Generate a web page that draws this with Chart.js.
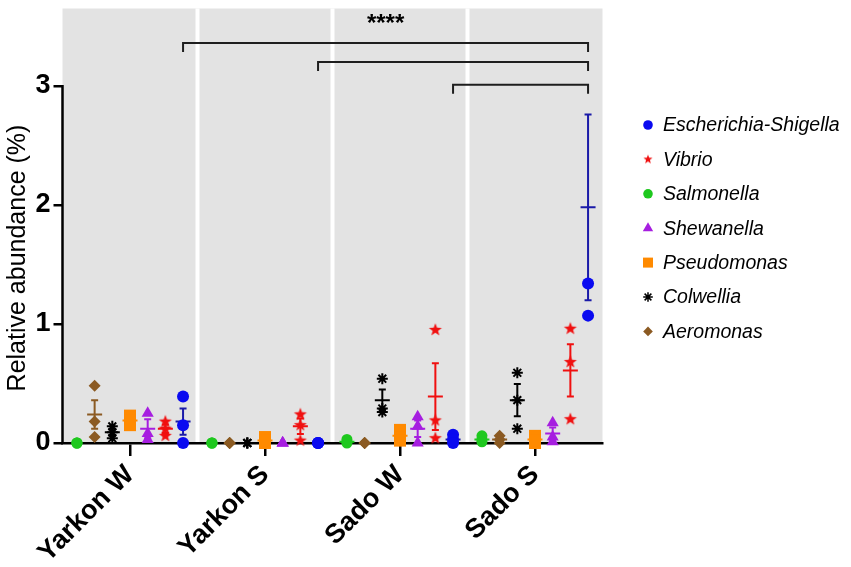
<!DOCTYPE html>
<html>
<head>
<meta charset="utf-8">
<script src="https://cdn.jsdelivr.net/npm/chart.js@4.4.0/dist/chart.umd.min.js"></script>
<style>
  html, body { margin: 0; padding: 0; background: #fff; }
  #wrap { width: 851px; height: 567px; position: relative; }
</style>
</head>
<body>
<div id="wrap"><canvas id="myChart"></canvas></div>
<script>
// groups on the x axis
const groups = ['Yarkon W', 'Yarkon S', 'Sado W', 'Sado S'];

// replicate values per group (Yarkon W, Yarkon S, Sado W, Sado S)
const salmonella  = [[0, 0, 0], [0, 0, 0], [0.03, 0.01, 0], [0.06, 0.03, 0.01]];
const aeromonas   = [[0.48, 0.18, 0.05], [0, 0, 0], [0, 0, 0], [0.06, 0.03, 0]];
const colwellia   = [[0.14, 0.09, 0.04], [0, 0, 0], [0.54, 0.29, 0.26], [0.59, 0.36, 0.12]];
const pseudomonas = [[0.23, 0.19, 0.15], [0.05, 0.02, 0], [0.11, 0.05, 0.02], [0.06, 0.02, 0]];
const shewanella  = [[0.25, 0.08, 0.03], [0, 0, 0], [0.22, 0.14, 0], [0.17, 0.05, 0.01]];
const vibrio      = [[0.18, 0.12, 0.06], [0.24, 0.15, 0.02], [0.95, 0.19, 0.04], [0.96, 0.68, 0.2]];
const escherichia = [[0.39, 0.15, 0], [0, 0, 0], [0.07, 0.03, 0], [1.34, 1.07, null]];

// mean and SEM
const salmonellaMean  = [0, 0, 0.01, 0.03],  salmonellaErr  = [0, 0, 0.01, 0.015];
const aeromonasMean   = [0.24, 0, 0, 0.03],  aeromonasErr   = [0.12, 0, 0, 0.02];
const colwelliaMean   = [0.09, 0, 0.36, 0.36], colwelliaErr = [0.03, 0, 0.09, 0.135];
const pseudomonasMean = [0.19, 0.02, 0.06, 0.03], pseudomonasErr = [0.025, 0.015, 0.03, 0.02];
const shewanellaMean  = [0.12, 0, 0.12, 0.08], shewanellaErr = [0.08, 0, 0.07, 0.05];
const vibrioMean      = [0.12, 0.14, 0.39, 0.61], vibrioErr  = [0.035, 0.065, 0.28, 0.22];
const escherichiaMean = [0.18, 0, 0.03, 1.98], escherichiaErr = [0.11, 0, 0.02, 0.78];

// significance comparisons (Escherichia-Shigella vs Sado S)
const comparisons = [[0, 3], [1, 3], [2, 3]];
const signif = '****';

const yTicks = [0, 1, 2, 3];

function makeStar(r, color) {
    const c = document.createElement('canvas');
    c.width = c.height = Math.ceil(2 * r + 2);
    const g = c.getContext('2d');
    g.fillStyle = color;
    g.beginPath();
    for (let i = 0; i < 10; i++) {
        const rr = i % 2 ? r * 0.42 : r;
        const ang = -Math.PI / 2 + i * Math.PI / 5;
        g.lineTo(c.width / 2 + rr * Math.cos(ang), c.height / 2 + rr * Math.sin(ang));
    }
    g.closePath();
    g.fill();
    return c;
}

const RED = '#f01010';
const bigStar = makeStar(6.8, RED);

// x order within a group: -3 .. +3
const series = [
    {name: 'Salmonella', pts: salmonella, mean: salmonellaMean, err: salmonellaErr, slot: -3,
     color: '#1ec81e', bar: '#1ec81e', style: 'circle', r: 5.5},
    {name: 'Aeromonas', pts: aeromonas, mean: aeromonasMean, err: aeromonasErr, slot: -2,
     color: '#8b5a22', bar: '#8b5a22', style: 'rectRot', r: 6},
    {name: 'Colwellia', pts: colwellia, mean: colwelliaMean, err: colwelliaErr, slot: -1,
     color: '#000000', bar: '#000000', style: 'star', r: 5.5},
    {name: 'Pseudomonas', pts: pseudomonas, mean: pseudomonasMean, err: pseudomonasErr, slot: 0,
     color: '#ff8a00', bar: '#ff8a00', style: 'rect', r: 8.5},
    {name: 'Shewanella', pts: shewanella, mean: shewanellaMean, err: shewanellaErr, slot: 1,
     color: '#a61ee0', bar: '#a61ee0', style: 'triangle', r: 7},
    {name: 'Vibrio', pts: vibrio, mean: vibrioMean, err: vibrioErr, slot: 2,
     color: RED, bar: RED, style: bigStar, r: 6.8},
    {name: 'Escherichia-Shigella', pts: escherichia, mean: escherichiaMean, err: escherichiaErr, slot: 3,
     color: '#0a0af0', bar: '#1a1aa8', style: 'circle', r: 6}
];
const legendOrder = ['Escherichia-Shigella', 'Vibrio', 'Salmonella', 'Shewanella', 'Pseudomonas', 'Colwellia', 'Aeromonas'];

const STEP = 0.131;

const datasets = series.map(s => {
    const data = [];
    s.pts.forEach((vals, g) => {
        vals.forEach(v => { if (v !== null) data.push({x: g + s.slot * STEP, y: v}); });
    });
    return {
        label: s.name,
        data: data,
        pointStyle: s.style,
        pointRadius: s.r,
        pointHoverRadius: s.r,
        backgroundColor: s.color,
        borderColor: s.color,
        borderWidth: s.style === 'star' ? 2 : 0,
        showLine: false,
        clip: false
    };
});

function drawMarker(ctx, style, x, y, r, color) {
    if (style instanceof HTMLCanvasElement) {
        const small = makeStar(r, color);
        ctx.drawImage(small, x - small.width / 2, y - small.height / 2);
        return;
    }
    ctx.save();
    ctx.fillStyle = color;
    ctx.strokeStyle = color;
    ctx.lineWidth = 1.5;
    ctx.beginPath();
    if (style === 'circle') {
        ctx.arc(x, y, r, 0, Math.PI * 2);
        ctx.fill();
    } else if (style === 'triangle') {
        ctx.moveTo(x, y - r);
        ctx.lineTo(x + r * 0.866, y + r * 0.5);
        ctx.lineTo(x - r * 0.866, y + r * 0.5);
        ctx.closePath();
        ctx.fill();
    } else if (style === 'rect') {
        ctx.rect(x - r, y - r, 2 * r, 2 * r);
        ctx.fill();
    } else if (style === 'rectRot') {
        ctx.moveTo(x, y - r); ctx.lineTo(x + r, y); ctx.lineTo(x, y + r); ctx.lineTo(x - r, y);
        ctx.closePath();
        ctx.fill();
    } else if (style === 'star') {
        for (let i = 0; i < 4; i++) {
            const a = i * Math.PI / 4;
            ctx.moveTo(x - r * Math.cos(a), y - r * Math.sin(a));
            ctx.lineTo(x + r * Math.cos(a), y + r * Math.sin(a));
        }
        ctx.stroke();
    }
    ctx.restore();
}

const extras = {
    id: 'extras',
    beforeDraw(chart) {
        const {ctx, chartArea: a, scales: {x}} = chart;
        ctx.save();
        ctx.fillStyle = '#e3e3e3';
        ctx.fillRect(a.left, a.top, a.right - a.left, a.bottom - a.top);
        ctx.strokeStyle = '#ffffff';
        ctx.lineWidth = 4;
        for (let i = 0; i < groups.length - 1; i++) {
            const px = x.getPixelForValue(i + 0.5);
            ctx.beginPath();
            ctx.moveTo(px, a.top);
            ctx.lineTo(px, a.bottom);
            ctx.stroke();
        }
        ctx.restore();
    },
    beforeDatasetsDraw(chart) {
        const {ctx, scales: {x, y}} = chart;
        ctx.save();
        ctx.lineWidth = 2;
        series.forEach(s => {
            ctx.strokeStyle = s.bar;
            s.mean.forEach((m, g) => {
                if (!m) return;
                const e = s.err[g];
                const px = x.getPixelForValue(g + s.slot * STEP);
                const yt = y.getPixelForValue(m + e);
                const yb = y.getPixelForValue(Math.max(0, m - e));
                const ym = y.getPixelForValue(m);
                ctx.beginPath();
                ctx.moveTo(px, yt); ctx.lineTo(px, yb);
                ctx.moveTo(px - 3.5, yt); ctx.lineTo(px + 3.5, yt);
                ctx.moveTo(px - 3.5, yb); ctx.lineTo(px + 3.5, yb);
                ctx.moveTo(px - 7.5, ym); ctx.lineTo(px + 7.5, ym);
                ctx.stroke();
            });
        });
        ctx.restore();
    },
    afterDraw(chart) {
        const {ctx, chartArea: a, scales: {x, y}} = chart;
        ctx.save();
        // y axis line from 0 to 3
        ctx.strokeStyle = '#000';
        ctx.lineWidth = 2.5;
        ctx.beginPath();
        ctx.moveTo(a.left, y.getPixelForValue(0));
        ctx.lineTo(a.left, y.getPixelForValue(3) - 1);
        ctx.stroke();

        // brackets
        const levels = [3.36, 3.2, 3.01];
        const esc = series.find(s => s.name === 'Escherichia-Shigella');
        ctx.strokeStyle = '#1e1e1e';
        ctx.lineWidth = 2;
        comparisons.forEach((c, i) => {
            const x1 = x.getPixelForValue(c[0] + esc.slot * STEP);
            const x2 = x.getPixelForValue(c[1] + esc.slot * STEP);
            const yy = y.getPixelForValue(levels[i]);
            ctx.beginPath();
            ctx.moveTo(x1, yy + 9); ctx.lineTo(x1, yy); ctx.lineTo(x2, yy); ctx.lineTo(x2, yy + 9);
            ctx.stroke();
        });
        const c0 = comparisons[0];
        ctx.fillStyle = '#000';
        ctx.font = 'bold 24px "Liberation Sans", Arial, sans-serif';
        ctx.textAlign = 'center';
        ctx.textBaseline = 'middle';
        ctx.fillText(signif, (x.getPixelForValue(c0[0] + esc.slot * STEP) + x.getPixelForValue(c0[1] + esc.slot * STEP)) / 2, y.getPixelForValue(levels[0]) - 19);

        // y axis title
        ctx.save();
        ctx.translate(18, 258);
        ctx.rotate(-Math.PI / 2);
        ctx.font = '25px "Liberation Sans", Arial, sans-serif';
        ctx.fillText('Relative abundance (%)', 0, 0);
        ctx.restore();

        // legend
        ctx.textAlign = 'left';
        ctx.font = 'italic 19.5px "Liberation Sans", Arial, sans-serif';
        legendOrder.forEach((name, i) => {
            const s = series.find(q => q.name === name);
            const ly = 125 + i * 34.4;
            const rr = s.style === 'rect' ? 5 : (s.style === 'triangle' ? 6 : 4.8);
            drawMarker(ctx, s.style, 648, ly, rr, s.color);
            ctx.fillStyle = '#000';
            ctx.fillText(name, 663, ly + 1);
        });
        ctx.restore();
    }
};

const ctx1 = document.getElementById('myChart').getContext('2d');
const myChart = new Chart(ctx1, {
    type: 'scatter',
    data: { datasets: datasets },
    options: {
        responsive: true,
        maintainAspectRatio: false,
        animation: false,
        events: [],
        layout: { padding: { top: 6, right: 248.5, left: 0, bottom: 0 } },
        plugins: { legend: { display: false }, tooltip: { enabled: false } },
        scales: {
            x: {
                type: 'linear',
                min: -0.5,
                max: 3.5,
                afterBuildTicks: axis => { axis.ticks = groups.map((g, i) => ({value: i})); },
                afterFit: axis => {
                    axis.height = 124;
                    axis.paddingLeft = 0;
                    axis.paddingRight = 0;
                },
                border: { display: true, color: '#000', width: 2.5 },
                grid: { drawOnChartArea: false, drawTicks: true, tickLength: 13, color: '#000', lineWidth: 2.5 },
                ticks: {
                    autoSkip: false,
                    minRotation: 45,
                    maxRotation: 45,
                    padding: 3,
                    color: '#000',
                    font: { family: '"Liberation Sans", Arial, sans-serif', size: 27, weight: 'bold' },
                    callback: v => groups[v]
                }
            },
            y: {
                min: 0,
                max: 3.65,
                afterBuildTicks: axis => { axis.ticks = yTicks.map(v => ({value: v})); },
                afterFit: axis => {
                    axis.width = 62.5;
                    axis.paddingTop = 0;
                    axis.paddingBottom = 0;
                },
                border: { display: false },
                grid: { drawOnChartArea: false, drawTicks: true, tickLength: 9, color: '#000', lineWidth: 2.5 },
                ticks: {
                    padding: 3,
                    color: '#000',
                    font: { family: '"Liberation Sans", Arial, sans-serif', size: 27, weight: 'bold' }
                }
            }
        }
    },
    plugins: [extras]
});
</script>
</body>
</html>
